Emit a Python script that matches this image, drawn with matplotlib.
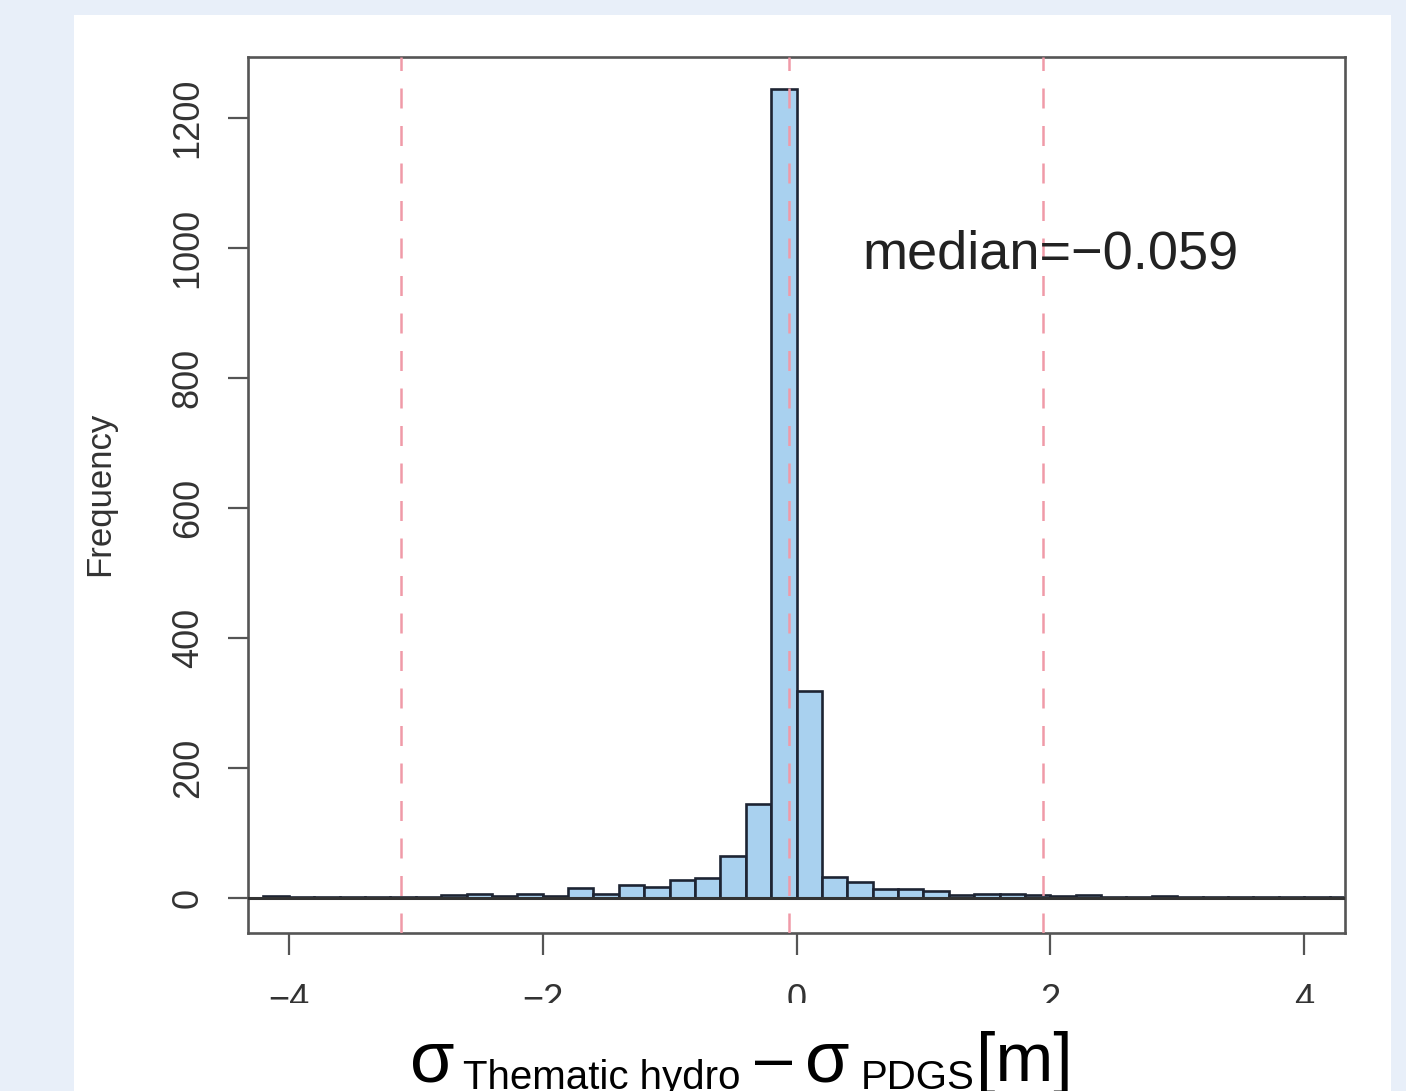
import numpy as np
import matplotlib
matplotlib.use("Agg")
import matplotlib.pyplot as plt
from matplotlib.patches import Rectangle

# ---------------- data ----------------
bin_start = -4.4
bin_width = 0.2
counts = [0, 3, 2, 2, 1, 2, 2, 2, 5, 6, 3, 6, 3, 15, 6, 20, 17, 28, 31, 64, 145,
          1245, 318, 32, 24, 14, 13, 10, 5, 6, 6, 4, 3, 4, 1, 2, 3, 1, 2, 2, 2, 1, 1, 2]
ref_lines = [-3.12, 1.94]
median_value = -0.059
median_label = "median=\u22120.059"
x_ticks = [-4, -2, 0, 2, 4]
y_ticks = [0, 200, 400, 600, 800, 1000, 1200]
y_label = "Frequency"

W, H = 1406, 1091
plt.rcParams['font.family'] = ['Liberation Sans', 'DejaVu Sans']

fig = plt.figure(figsize=(W / 100, H / 100), dpi=100)
fig.patch.set_facecolor('#e8eff9')

def fx(px):
    return px / W

def fy(py):
    return 1 - py / H

# white panel
fig.patches.append(Rectangle((fx(74), 0), fx(1391) - fx(74), fy(15), transform=fig.transFigure,
                             facecolor='white', edgecolor='none', zorder=-5))

# axes box: pixels left 248, right 1345, top 57, bottom 933
ax = fig.add_axes([fx(248), fy(933), fx(1345) - fx(248), fy(57) - fy(933)])
ax.set_facecolor('white')

lefts = np.round(bin_start + bin_width * np.arange(len(counts)), 2)
ax.bar(lefts, counts, width=bin_width, align='edge', color='#a9d1ef',
       edgecolor='#1d2433', linewidth=1.9, zorder=2)
ax.axhline(0, color='#333333', lw=2.2, zorder=3)

dash = (0, (8, 7))
for xv in ref_lines + [median_value]:
    ax.axvline(xv, color='#f09aa8', lw=1.8, ls=dash, zorder=4)

ax.text(2.0, 969, median_label, ha='center', va='baseline', fontsize=39,
        color='#222222', zorder=5)

ax.set_xlim(-4.322, 4.322)
ax.set_ylim(-54, 1294)
ax.set_xticks(x_ticks)
ax.set_yticks(y_ticks)

for s in ax.spines.values():
    s.set_color('#555555')
    s.set_linewidth(1.9)

ax.tick_params(axis='x', direction='out', length=16, width=1.6, color='#555555',
               labelsize=26, labelcolor='#333333', pad=20)
ax.tick_params(axis='y', direction='out', length=14.5, width=1.6, color='#555555',
               labelsize=26, labelcolor='#333333', pad=16)
plt.setp(ax.get_yticklabels(), rotation=90, va='center', ha='right')

fig.text(fx(100), fy(494), y_label, rotation=90, ha='center', va='center',
         fontsize=25, color='#333333')

# cover the lower part of the tick labels (cropped in the reference)
fig.patches.append(Rectangle((fx(74), 0), fx(1391) - fx(74), fy(1003), transform=fig.transFigure,
                             facecolor='white', edgecolor='none', zorder=10))

# x label pieces
big = 52
mid = 50
small = 29
fig.text(fx(410), fy(1081), "\u03c3", fontsize=big, ha='left', va='baseline', color='black', zorder=11)
fig.text(fx(463), fy(1089), "Thematic hydro", fontsize=small, ha='left', va='baseline', color='black', zorder=11)
fig.text(fx(755), fy(1080), "\u2013", fontsize=48, ha='left', va='baseline', color='black', zorder=11)
fig.text(fx(805), fy(1081), "\u03c3", fontsize=big, ha='left', va='baseline', color='black', zorder=11)
fig.text(fx(861), fy(1089), "PDGS", fontsize=small, ha='left', va='baseline', color='black', zorder=11)
fig.text(fx(976), fy(1081), "[m]", fontsize=mid, ha='left', va='baseline', color='black', zorder=11)

fig.savefig("out.png", dpi=100, facecolor=fig.get_facecolor())
